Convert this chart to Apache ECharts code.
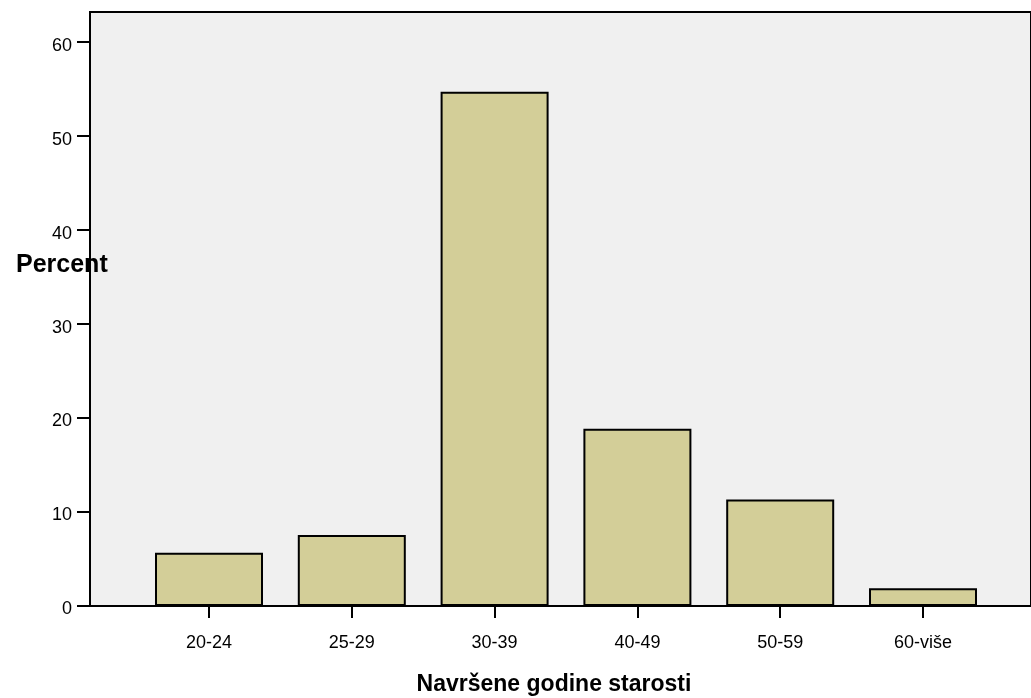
<!DOCTYPE html>
<html>
<head>
<meta charset="utf-8">
<script src="https://cdn.jsdelivr.net/npm/echarts@6/dist/echarts.min.js"></script>
<style>html,body{margin:0;padding:0;background:#fff;}#c{width:1031px;height:698px;}</style>
</head>
<body>
<div id="c"></div>
<script>
const categories = ['20-24', '25-29', '30-39', '40-49', '50-59', '60-više'];
const percentValues = [5.66, 7.55, 54.72, 18.87, 11.32, 1.89];
const yTicks = [0, 10, 20, 30, 40, 50, 60];
const yTickInterval = 10;
const yMax = 63.2;

const chart = echarts.init(document.getElementById('c'));
const font = 'Liberation Sans, Arial, sans-serif';
chart.setOption({
  animation: false,
  backgroundColor: '#ffffff',
  title: [
    { text: 'Percent', left: 11, top: 248, textStyle: { fontFamily: font, fontSize: 25, fontWeight: 'bold', color: '#000' } },
    { text: 'Navršene godine starosti', left: 549, textAlign: 'center', top: 668, textStyle: { fontFamily: font, fontSize: 23, fontWeight: 'bold', color: '#000' } }
  ],
  grid: [
    { left: 90, right: -10, top: 12, bottom: 92, show: true, backgroundColor: '#f0f0f0', borderColor: '#000', borderWidth: 2, z: 0 },
    { left: 137.6, right: 36.6, top: 12, bottom: 92 },
    { left: 90, right: -10, top: 15.5, bottom: 88.5 }
  ],
  xAxis: [
    { type: 'value', gridIndex: 0, show: false, min: 0, max: 1 },
    {
      type: 'category', gridIndex: 1, data: categories,
      axisLine: { show: true, lineStyle: { color: '#000', width: 2 } },
      axisTick: { show: true, alignWithLabel: true, length: 12, lineStyle: { color: '#000', width: 2 } },
      axisLabel: { color: '#000', fontFamily: font, fontSize: 18, margin: 28 }
    },
    { type: 'value', gridIndex: 2, show: false, min: 0, max: 1 }
  ],
  yAxis: [
    {
      type: 'value', gridIndex: 0, min: 0, max: yMax, interval: yTickInterval,
      axisLine: { show: true, lineStyle: { color: '#000', width: 2 } },
      axisTick: { show: true, length: 13, customValues: yTicks, lineStyle: { color: '#000', width: 2 } },
      axisLabel: { show: false },
      splitLine: { show: false }
    },
    { type: 'value', gridIndex: 1, min: 0, max: yMax, interval: yTickInterval, show: false, splitLine: { show: false } },
    {
      type: 'value', gridIndex: 2, min: 0, max: yMax, interval: yTickInterval,
      axisLine: { show: false }, axisTick: { show: false }, splitLine: { show: false },
      axisLabel: { color: '#000', fontFamily: font, fontSize: 18, margin: 18, customValues: yTicks }
    }
  ],
  series: [{
    type: 'bar', xAxisIndex: 1, yAxisIndex: 1, data: percentValues, barWidth: 108,
    itemStyle: { color: '#d3ce98', borderColor: '#000', borderWidth: 2 }
  }]
});
</script>
</body>
</html>
